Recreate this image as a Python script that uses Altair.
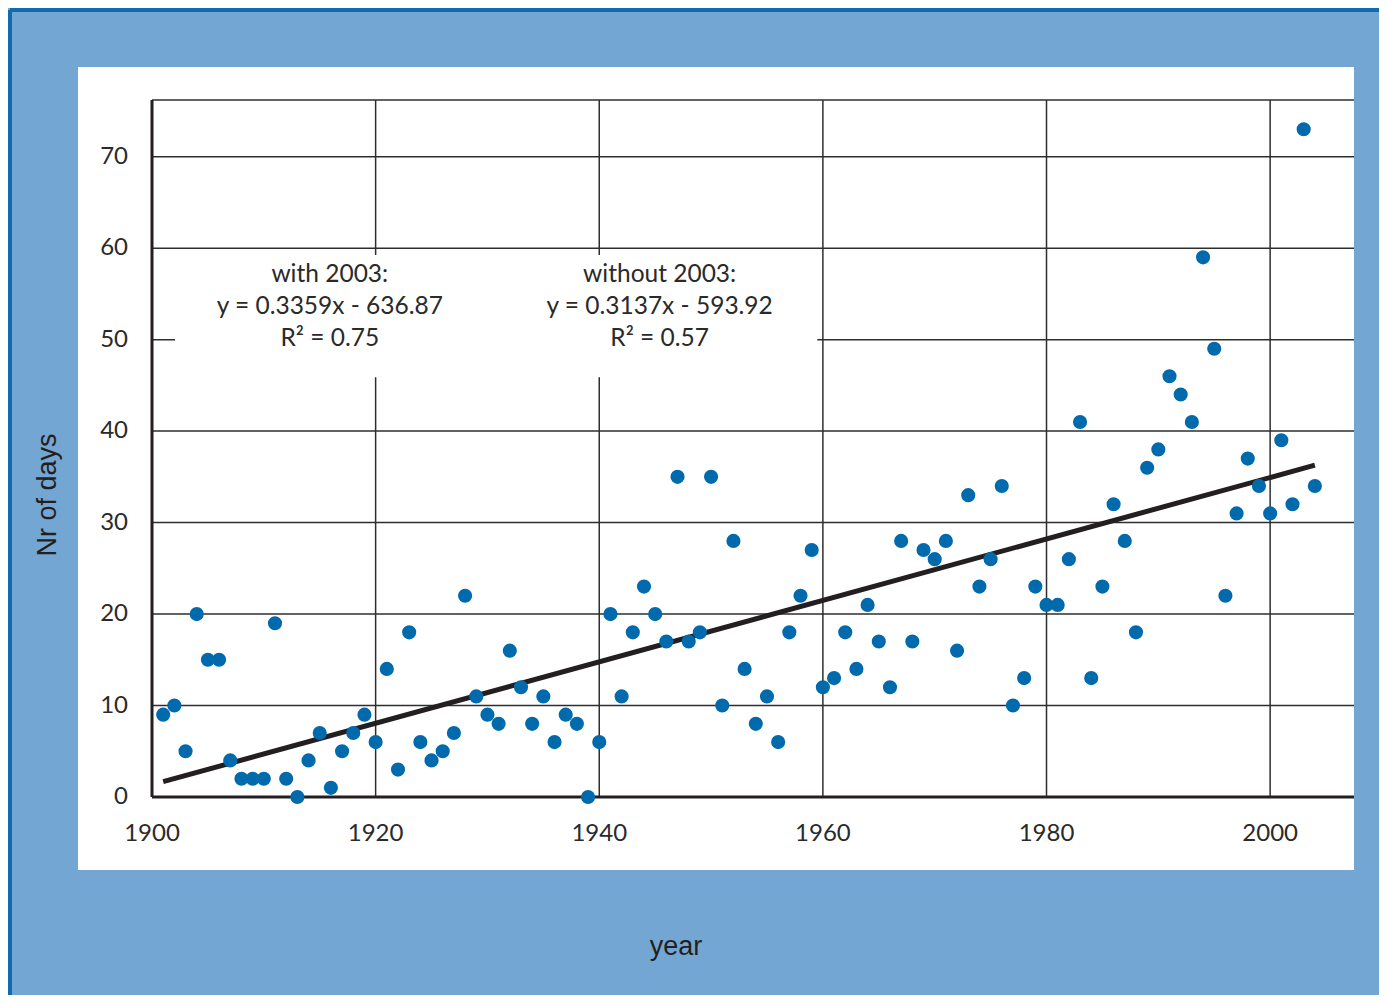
import altair as alt
import pandas as pd

# ---------------- data ----------------
YEARS = list(range(1901, 2005))
DAYS = [
    9, 10, 5, 20, 15, 15, 4, 2, 2, 2,        # 1901-1910
    19, 2, 0, 4, 7, 1, 5, 7, 9, 6,           # 1911-1920
    14, 3, 18, 6, 4, 5, 7, 22, 11, 9,        # 1921-1930
    8, 16, 12, 8, 11, 6, 9, 8, 0, 6,         # 1931-1940
    20, 11, 18, 23, 20, 17, 35, 17, 18, 35,  # 1941-1950
    10, 28, 14, 8, 11, 6, 18, 22, 27, 12,    # 1951-1960
    13, 18, 14, 21, 17, 12, 28, 17, 27, 26,  # 1961-1970
    28, 16, 33, 23, 26, 34, 10, 13, 23, 21,  # 1971-1980
    21, 26, 41, 13, 23, 32, 28, 18, 36, 38,  # 1981-1990
    46, 44, 41, 59, 49, 22, 31, 37, 34, 31,  # 1991-2000
    39, 32, 73, 34,                          # 2001-2004
]
X_TICKS = [1900, 1920, 1940, 1960, 1980, 2000]
Y_TICKS = [0, 10, 20, 30, 40, 50, 60, 70]
X_TITLE = "year"
Y_TITLE = "Nr of days"

# trend line printed on the chart ("with 2003")
FIT_SLOPE = 0.3359
FIT_INTERCEPT = -636.87
FIT_YEARS = [1901, 2004]

ANNOT_LINES = ["with 2003:", "y = 0.3359x - 636.87", "R\u00b2 = 0.75",
               "without 2003:", "y = 0.3137x - 593.92", "R\u00b2 = 0.57"]
ANNOT_YEAR = [1915.9, 1915.9, 1915.9, 1945.4, 1945.4, 1945.4]
ANNOT_DAYS = [57.1, 53.6, 50.1, 57.1, 53.6, 50.1]

# ---------------- layout / style ----------------
W, H = 1202, 697
X_DOMAIN = [1900, 2007.5]
Y_DOMAIN = [0, 76.2]
BG = "#73a6d2"
DOT = "#006aac"
INK = "#231f20"
GRID = "#2e2e2e"
TXT = "#2a2a2a"
LABEL_FONT = "Lato"
TITLE_FONT = "Liberation Sans"

xs = alt.Scale(domain=X_DOMAIN, nice=False, zero=False)
ys = alt.Scale(domain=Y_DOMAIN, nice=False, zero=False)


def px_x(v):
    return (v - X_DOMAIN[0]) / (X_DOMAIN[1] - X_DOMAIN[0]) * W


def px_y(v):
    return (Y_DOMAIN[1] - v) / (Y_DOMAIN[1] - Y_DOMAIN[0]) * H


one = alt.Data(values=[{"k": 1}])

points_df = pd.DataFrame({"year": YEARS, "days": DAYS})
fit_df = pd.DataFrame({"year": FIT_YEARS,
                       "days": [FIT_SLOPE * y + FIT_INTERCEPT for y in FIT_YEARS]})
annot_df = pd.DataFrame({"year": ANNOT_YEAR, "days": ANNOT_DAYS, "label": ANNOT_LINES})
hgrid_df = pd.DataFrame({"days": Y_TICKS[1:]})
vgrid_df = pd.DataFrame({"year": X_TICKS[1:]})
ylab_df = pd.DataFrame({"days": Y_TICKS, "label": [str(v) for v in Y_TICKS]})
xlab_df = pd.DataFrame({"year": X_TICKS, "label": [str(v) for v in X_TICKS]})

X = lambda f="year:Q": alt.X(f, scale=xs, axis=None)
Y = lambda f="days:Q": alt.Y(f, scale=ys, axis=None)

# white panel behind plot + tick labels
panel = alt.Chart(one).mark_rect(fill="white").encode(
    x=alt.value(-74), x2=alt.value(W), y=alt.value(-33), y2=alt.value(H + 73))

hgrid = alt.Chart(hgrid_df).mark_rule(color=GRID, strokeWidth=1.5).encode(y=Y())
vgrid = alt.Chart(vgrid_df).mark_rule(color=GRID, strokeWidth=1.5).encode(x=X())
top_border = alt.Chart(one).mark_rule(color=GRID, strokeWidth=1.5).encode(y=alt.value(0))

# white box behind the annotations (interrupts grid lines)
annot_box = alt.Chart(one).mark_rect(fill="white").encode(
    x=alt.value(px_x(1902.06)), x2=alt.value(px_x(1959.5)),
    y=alt.value(px_y(59.25)), y2=alt.value(px_y(45.9)))

left_axis = alt.Chart(one).mark_rule(color=INK, strokeWidth=3).encode(x=alt.value(0))
bottom_axis = alt.Chart(one).mark_rule(color=INK, strokeWidth=3).encode(y=alt.value(H))

fit = alt.Chart(fit_df).mark_line(color=INK, strokeWidth=5).encode(x=X(), y=Y())

points = alt.Chart(points_df).mark_point(
    filled=True, shape="circle", size=200, color=DOT, opacity=1).encode(x=X(), y=Y())

annot = alt.Chart(annot_df).mark_text(
    font=LABEL_FONT, fontSize=24.5, color=TXT, align="center", baseline="middle").encode(
    x=X(), y=Y(), text="label:N")

ylabels = alt.Chart(ylab_df).mark_text(
    font=LABEL_FONT, fontSize=24, color=TXT, align="right", baseline="middle").encode(
    x=alt.value(-24), y=Y(), text="label:N")
xlabels = alt.Chart(xlab_df).mark_text(
    font=LABEL_FONT, fontSize=24, color=TXT, align="center", baseline="middle").encode(
    x=X(), y=alt.value(H + 37), text="label:N")

ytitle = alt.Chart(one).mark_text(
    text=Y_TITLE, font=TITLE_FONT, fontSize=27, color=INK, angle=270,
    align="center", baseline="middle").encode(x=alt.value(-104), y=alt.value(395))
xtitle = alt.Chart(one).mark_text(
    text=X_TITLE, font=TITLE_FONT, fontSize=27, color=INK,
    align="center", baseline="middle").encode(x=alt.value(524), y=alt.value(H + 150))

# dark-blue frame at the top and left of the picture
frame_top = alt.Chart(one).mark_rule(color="#0f6aae", strokeWidth=4).encode(
    x=alt.value(-142), x2=alt.value(W + 25), y=alt.value(-90))
frame_left = alt.Chart(one).mark_rule(color="#0f6aae", strokeWidth=4).encode(
    x=alt.value(-142), y=alt.value(-90), y2=alt.value(H + 198))

chart = alt.layer(
    panel, hgrid, vgrid, top_border, annot_box, left_axis, bottom_axis,
    fit, points, annot, ylabels, xlabels, ytitle, xtitle, frame_top, frame_left,
).properties(
    width=W, height=H,
    autosize=alt.AutoSizeParams(type="none"),
    padding={"left": 144, "top": 92, "right": 25, "bottom": 198},
    background=BG,
).configure_view(stroke=None)

chart.save("out.html", embed_options={"renderer": "svg", "actions": False})
